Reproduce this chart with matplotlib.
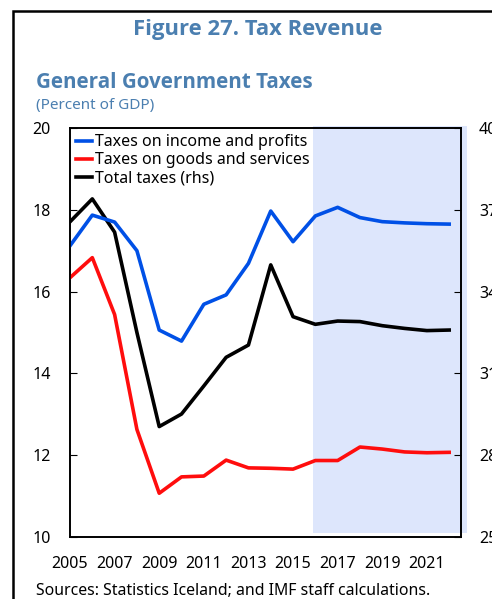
import matplotlib
matplotlib.use("Agg")
import matplotlib.pyplot as plt
from matplotlib.patches import Rectangle

years = list(range(2005, 2023))
income_profits = [17.12, 17.87, 17.70, 17.00, 15.06, 14.79, 15.69, 15.92, 16.69, 17.97, 17.22,
                  17.85, 18.06, 17.81, 17.71, 17.68, 17.66, 17.65]
goods_services = [16.34, 16.83, 15.44, 12.63, 11.07, 11.47, 11.49, 11.88, 11.69, 11.68, 11.66,
                  11.87, 11.87, 12.20, 12.15, 12.08, 12.06, 12.07]
total_taxes = [36.56, 37.40, 36.18, 32.50, 29.05, 29.51, 30.54, 31.59, 32.04, 34.98, 33.08,
               32.80, 32.92, 32.90, 32.75, 32.65, 32.57, 32.59]
left_ticks = [10, 12, 14, 16, 18, 20]
right_ticks = [25, 28, 31, 34, 37, 40]
xtick_years = list(range(2005, 2022, 2))
shade_start, shade_end = 2015.9, 2022.8

plt.rcParams['font.family'] = ['Noto Sans', 'DejaVu Sans']
title_color = '#4B7FB0'
bold_family = ['Open Sans', 'DejaVu Sans']

fig = plt.figure(figsize=(4.92, 5.99), dpi=100)
W, H = 492, 599

# figure border
fig.patches.append(Rectangle((13 / W, -0.1), 1.2, 1 - 11 / H + 0.1, transform=fig.transFigure,
                             fill=False, edgecolor='black', linewidth=1.8))

fig.text(258 / W, 1 - 30 / H, 'Figure 27. Tax Revenue', ha='center', va='center',
         fontsize=15.8, fontweight='bold', color=title_color, family=bold_family)
fig.text(36 / W, 1 - 83 / H, 'General Government Taxes', ha='left', va='center',
         fontsize=14.9, fontweight='bold', color=title_color, family=bold_family)
fig.text(36 / W, 1 - 106 / H, '(Percent of GDP)', ha='left', va='center',
         fontsize=11, color=title_color)
fig.text(36 / W, 1 - 591 / H, 'Sources: Statistics Iceland; and IMF staff calculations.',
         ha='left', va='center', fontsize=11.4)

ax = fig.add_axes([70 / W, 1 - 537 / H, (461 - 70) / W, (537 - 128) / H])
ax2 = ax.twinx()

ax2.axvspan(shade_start, shade_end, ymin=0.01, ymax=1.005, color='#DDE6FC', zorder=0,
            clip_on=False, linewidth=0)

l1, = ax.plot(years, income_profits, color='#0050E6', lw=2.6, label='Taxes on income and profits')
l2, = ax.plot(years, goods_services, color='#FF0D0D', lw=2.6, label='Taxes on goods and services')
l3, = ax2.plot(years, total_taxes, color='black', lw=2.6, label='Total taxes (rhs)', zorder=3)

ax.set_xlim(2005, 2022.53)
ax.set_ylim(10, 20)
ax2.set_ylim(25, 40)
ax.set_yticks(left_ticks)
ax2.set_yticks(right_ticks)
ax.set_xticks(xtick_years)
ax.set_xticklabels([str(y) for y in xtick_years])

ax.tick_params(axis='y', direction='in', length=5, pad=14, labelsize=11.5)
ax2.tick_params(axis='y', direction='in', length=5, pad=13, labelsize=11.5)
ax.tick_params(axis='x', length=0, pad=14, labelsize=11.5)

for a in (ax, ax2):
    for s in a.spines.values():
        s.set_linewidth(1.2)
        s.set_color('black')

ax.set_zorder(ax2.get_zorder() + 1)
ax.patch.set_visible(False)

leg = ax.legend(handles=[l1, l2, l3], loc='upper left', frameon=False, fontsize=11.5,
                handlelength=1.0, handletextpad=0.15, labelspacing=0.12,
                borderaxespad=0.3, borderpad=0.1)

fig.savefig('out.png', dpi=100)
